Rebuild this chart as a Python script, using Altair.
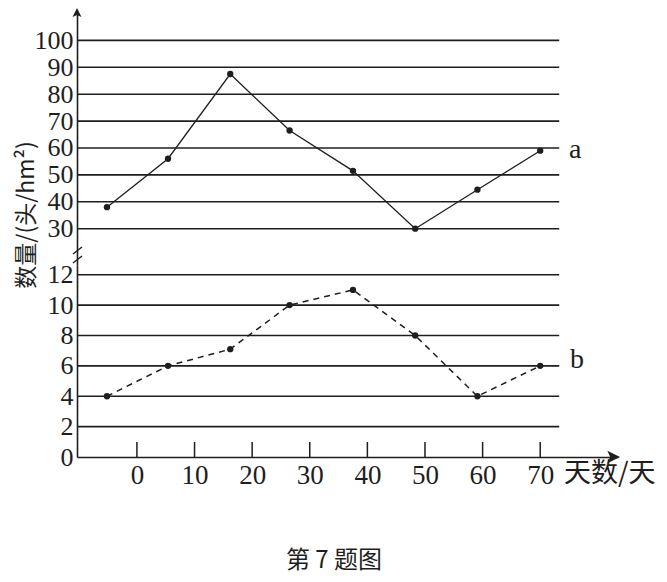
import altair as alt
import pandas as pd

# ---------------- data ----------------
days = [-5.2, 5.4, 16.2, 26.5, 37.5, 48.3, 59.1, 70.0]
series_a = [38, 56, 87.5, 66.5, 51.5, 30, 44.5, 59]
series_b = [4, 6, 7.1, 10, 11, 8, 4, 6]
top_ticks = [30, 40, 50, 60, 70, 80, 90, 100]
bottom_ticks = [0, 2, 4, 6, 8, 10, 12]
bottom_grid = [2, 4, 6, 8, 10, 12]
x_ticks = [0, 10, 20, 30, 40, 50, 60, 70]
y_title = "数量/(头/hm²)"
x_title = "天数/天"
caption = "第 7 题图"
label_a = "a"
label_b = "b"

# ---------------- layout constants ----------------
XMIN, XMAX, GRID_END = -10.4, 83.5, 73.3
W = 541
YT_MIN, YT_MAX, HT = 16.5, 111.3, 255
YB_MIN, YB_MAX, HB = 0, 12.64, 192

SERIF = "Liberation Serif, Times New Roman, serif"
CJK = "Noto Sans CJK SC, sans-serif"
INK = "#1e1e1e"

xsc = alt.Scale(domain=[XMIN, XMAX], nice=False, zero=False)
ytsc = alt.Scale(domain=[YT_MIN, YT_MAX], nice=False, zero=False)
ybsc = alt.Scale(domain=[YB_MIN, YB_MAX], nice=False, zero=False)

df_a = pd.DataFrame({"day": days, "v": series_a})
df_b = pd.DataFrame({"day": days, "v": series_b})

# ---------- top panel ----------
top_axis = alt.Axis(values=top_ticks, title=None, grid=False, ticks=False,
                    domain=True, domainColor=INK, domainWidth=1.6,
                    labelFont=SERIF, labelFontSize=26, labelColor=INK,
                    labelPadding=4, labelOverlap=False, labelBound=False)

top_grid = alt.Chart(pd.DataFrame({"v": top_ticks})).transform_calculate(
    x0=str(XMIN), x1=str(GRID_END)
).mark_rule(color=INK, strokeWidth=1.6).encode(
    x=alt.X("x0:Q", scale=xsc, axis=None),
    x2="x1:Q",
    y=alt.Y("v:Q", scale=ytsc, axis=top_axis),
)

line_a = alt.Chart(df_a).mark_line(color=INK, strokeWidth=1.3).encode(
    x=alt.X("day:Q", scale=xsc, axis=None),
    y=alt.Y("v:Q", scale=ytsc, axis=top_axis),
)
pts_a = alt.Chart(df_a).mark_circle(color=INK, size=40, opacity=1).encode(
    x=alt.X("day:Q", scale=xsc, axis=None),
    y=alt.Y("v:Q", scale=ytsc, axis=top_axis),
)

arrow_up = alt.Chart(pd.DataFrame({"k": [0]})).mark_point(
    shape="M0,-1 L0.9,0.8 L0,0.4 L-0.9,0.8 Z", filled=True, color=INK,
    size=100, opacity=1
).encode(x=alt.value(0), y=alt.value(3))

brk = alt.Chart(pd.DataFrame({"k": [0]})).mark_rule(color=INK, strokeWidth=1.4).encode(
    x=alt.value(-4), x2=alt.value(5), y=alt.value(244), y2=alt.value(237))
brk2 = alt.Chart(pd.DataFrame({"k": [0]})).mark_rule(color=INK, strokeWidth=1.4).encode(
    x=alt.value(-4), x2=alt.value(5), y=alt.value(253), y2=alt.value(246))

txt_a = alt.Chart(pd.DataFrame({"t": [label_a]})).mark_text(
    font=SERIF, fontSize=28, color=INK, align="left", baseline="middle"
).encode(text="t:N", x=alt.value(492), y=alt.value(140))

ytitle = alt.Chart(pd.DataFrame({"t": [y_title]})).mark_text(
    font=CJK, fontSize=23, color=INK, align="center", baseline="middle", angle=270
).encode(text="t:N", x=alt.value(-50), y=alt.value(205))

top = alt.layer(top_grid, line_a, pts_a, arrow_up, brk, brk2, txt_a, ytitle).properties(
    width=W, height=HT)

# ---------- bottom panel ----------
bot_yaxis = alt.Axis(values=bottom_ticks, title=None, grid=False, ticks=False,
                     domain=True, domainColor=INK, domainWidth=1.6,
                     labelFont=SERIF, labelFontSize=26, labelColor=INK,
                     labelPadding=4, labelOverlap=False, labelBound=False)
bot_xaxis = alt.Axis(values=x_ticks, title=None, grid=False, ticks=False,
                     domain=True, domainColor=INK, domainWidth=1.6,
                     labelFont=SERIF, labelFontSize=27, labelColor=INK,
                     labelPadding=5, labelFlush=False, labelOverlap=False)

bot_grid = alt.Chart(pd.DataFrame({"v": bottom_grid})).transform_calculate(
    x0=str(XMIN), x1=str(GRID_END)
).mark_rule(color=INK, strokeWidth=1.6).encode(
    x=alt.X("x0:Q", scale=xsc, axis=bot_xaxis),
    x2="x1:Q",
    y=alt.Y("v:Q", scale=ybsc, axis=bot_yaxis),
)

tick_marks = alt.Chart(pd.DataFrame({"d": x_ticks})).mark_rule(
    color=INK, strokeWidth=1.5
).encode(
    x=alt.X("d:Q", scale=xsc, axis=bot_xaxis),
    y=alt.value(HB), y2=alt.value(HB - 15),
)

line_b = alt.Chart(df_b).mark_line(color=INK, strokeWidth=1.5, strokeDash=[6, 5]).encode(
    x=alt.X("day:Q", scale=xsc, axis=bot_xaxis),
    y=alt.Y("v:Q", scale=ybsc, axis=bot_yaxis),
)
pts_b = alt.Chart(df_b).mark_circle(color=INK, size=40, opacity=1).encode(
    x=alt.X("day:Q", scale=xsc, axis=bot_xaxis),
    y=alt.Y("v:Q", scale=ybsc, axis=bot_yaxis),
)

arrow_right = alt.Chart(pd.DataFrame({"k": [0]})).mark_point(
    shape="M1,0 L-0.8,0.9 L-0.4,0 L-0.8,-0.9 Z", filled=True, color=INK,
    size=196, opacity=1
).encode(x=alt.value(W - 5), y=alt.value(HB))

txt_b = alt.Chart(pd.DataFrame({"t": [label_b]})).mark_text(
    font=SERIF, fontSize=28, color=INK, align="left", baseline="middle"
).encode(text="t:N", x=alt.value(493), y=alt.value(95))

txt_x = alt.Chart(pd.DataFrame({"t": [x_title]})).mark_text(
    font=CJK, fontSize=27, color=INK, align="left", baseline="middle"
).encode(text="t:N", x=alt.value(487), y=alt.value(HB + 17))

txt_cap = alt.Chart(pd.DataFrame({"t": [caption]})).mark_text(
    font=CJK, fontSize=24, color=INK, align="center", baseline="middle"
).encode(text="t:N", x=alt.value(257), y=alt.value(HB + 104))

bottom = alt.layer(bot_grid, tick_marks, line_b, pts_b, arrow_right,
                   txt_b, txt_x, txt_cap).properties(width=W, height=HB)

chart = alt.vconcat(top, bottom, spacing=0, bounds="flush").properties(
    padding={"left": 8, "top": 0, "right": 0, "bottom": 12}
).configure(background="white").configure_view(strokeWidth=0, stroke="transparent")

chart.save("out.html", embed_options={"renderer": "svg", "actions": False})
